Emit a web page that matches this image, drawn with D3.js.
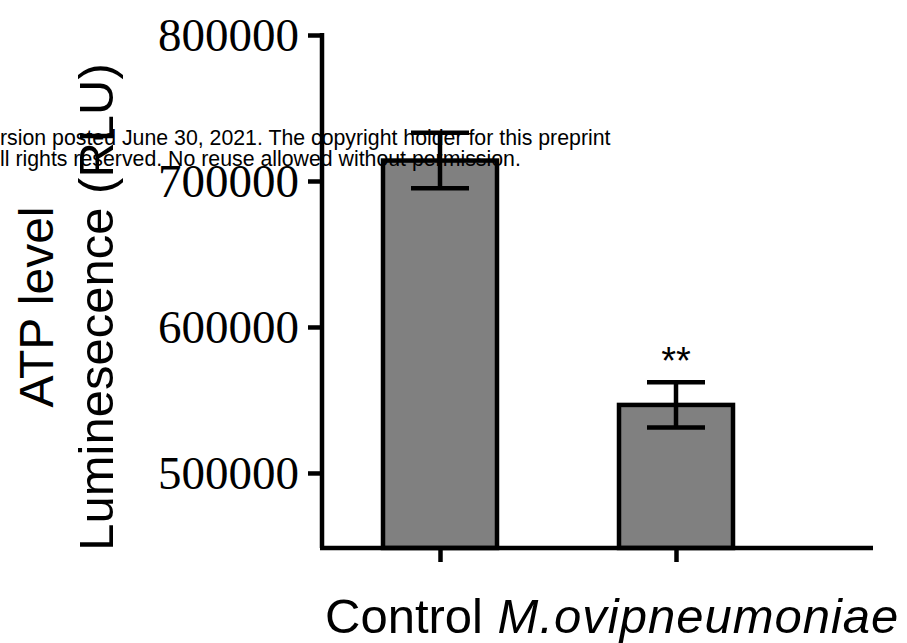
<!DOCTYPE html>
<html>
<head>
<meta charset="utf-8">
<script src="https://cdn.jsdelivr.net/npm/d3@7/dist/d3.min.js"></script>
<style>
  html, body { margin: 0; padding: 0; background: #fff; }
  svg { display: block; }
</style>
</head>
<body>
<svg id="chart" width="907" height="643"></svg>
<script>
// ATP level (luminescence, RLU): group means with error bars
const categories = ["Control", "M.ovipneumoniae"];
const italicCategories = ["M.ovipneumoniae"];
const means = [714000, 546600];
const errors = [19000, 15500];
const significance = ["", "**"];
const yTicks = [500000, 600000, 700000, 800000];
const yDomain = [448600, 800000];
const yTitleLines = ["ATP level", "Luminesecence (RLU)"];
const noticeLines = [
  "rsion posted June 30, 2021. The copyright holder for this preprint",
  "ll rights reserved. No reuse allowed without permission."
];

const svg = d3.select("#chart");
const axisX = 322, baseY = 548, topY = 35, xEnd = 873;
const sw = 4.5;
const barW = 114, capW = 58;

const y = d3.scaleLinear().domain(yDomain).range([baseY, topY]);
const x = d3.scalePoint().domain(categories).range([440, 676]);

const rows = categories.map((c, i) => ({ c, m: means[i], e: errors[i], s: significance[i] }));

// Bars
svg.append("g").selectAll("rect").data(rows).join("rect")
  .attr("x", d => x(d.c) - barW / 2)
  .attr("y", d => y(d.m))
  .attr("width", barW)
  .attr("height", d => baseY - y(d.m))
  .attr("fill", "#808080")
  .attr("stroke", "#000")
  .attr("stroke-width", sw);

// Error bars
const eb = svg.append("g").attr("stroke", "#000").attr("stroke-width", sw);
eb.selectAll("line.v").data(rows).join("line").attr("class", "v")
  .attr("x1", d => x(d.c)).attr("x2", d => x(d.c))
  .attr("y1", d => y(d.m + d.e)).attr("y2", d => y(d.m - d.e));
eb.selectAll("line.hi").data(rows).join("line").attr("class", "hi")
  .attr("x1", d => x(d.c) - capW / 2).attr("x2", d => x(d.c) + capW / 2)
  .attr("y1", d => y(d.m + d.e)).attr("y2", d => y(d.m + d.e));
eb.selectAll("line.lo").data(rows).join("line").attr("class", "lo")
  .attr("x1", d => x(d.c) - capW / 2).attr("x2", d => x(d.c) + capW / 2)
  .attr("y1", d => y(d.m - d.e)).attr("y2", d => y(d.m - d.e));

// Significance marks
svg.append("g").selectAll("text").data(rows.filter(d => d.s)).join("text")
  .attr("x", d => x(d.c))
  .attr("y", d => y(d.m + d.e) - 8)
  .attr("text-anchor", "middle")
  .attr("font-family", "Liberation Sans, Arial, sans-serif")
  .attr("font-size", 38)
  .attr("fill", "#000")
  .text(d => d.s);

// Y axis
const yAxis = svg.append("g")
  .attr("transform", `translate(${axisX},0)`)
  .call(d3.axisLeft(y).tickValues(yTicks).tickSize(14).tickSizeOuter(0).tickPadding(9)
    .tickFormat(d3.format("d")));
yAxis.select(".domain").attr("stroke-width", sw).attr("d", `M0,${topY - 2}V${baseY}`);
yAxis.selectAll(".tick line").attr("stroke-width", sw);
yAxis.selectAll(".tick text")
  .attr("font-family", "Liberation Serif, Times New Roman, serif")
  .attr("font-size", 47)
  .attr("fill", "#000")
  .attr("dy", "0.34em");

// X axis
const xAxis = svg.append("g")
  .attr("transform", `translate(0,${baseY})`)
  .call(d3.axisBottom(x).tickSize(14).tickSizeOuter(0).tickFormat(""));
xAxis.select(".domain").attr("stroke-width", sw).attr("d", `M${axisX - 2},0H${xEnd}`);
xAxis.selectAll(".tick line").attr("stroke-width", sw);

// Category labels on one line
const lab = svg.append("text")
  .attr("x", 325).attr("y", 633)
  .attr("font-family", "Liberation Sans, Arial, sans-serif")
  .attr("font-size", 49)
  .attr("fill", "#000");
categories.forEach((c, i) => {
  const italic = italicCategories.includes(c);
  lab.append("tspan")
    .attr("font-style", italic ? "italic" : "normal")
    .attr("letter-spacing", italic ? 1 : 0)
    .text((i > 0 ? " " : "") + c);
});

// Y axis title (two rotated lines)
const titleY = 307;
yTitleLines.forEach((t, i) => {
  svg.append("text")
    .attr("transform", `translate(${53 + i * 60},${titleY}) rotate(-90)`)
    .attr("text-anchor", "middle")
    .attr("font-family", "Liberation Sans, Arial, sans-serif")
    .attr("font-size", i === 0 ? 48 : 49)
    .attr("fill", "#000")
    .text(t);
});

// Notice text overlay
noticeLines.forEach((t, i) => {
  svg.append("text")
    .attr("x", 0).attr("y", 145 + i * 21)
    .attr("font-family", "Liberation Sans, Arial, sans-serif")
    .attr("font-size", 21.3)
    .attr("fill", "#000")
    .text(t);
});
</script>
</body>
</html>
